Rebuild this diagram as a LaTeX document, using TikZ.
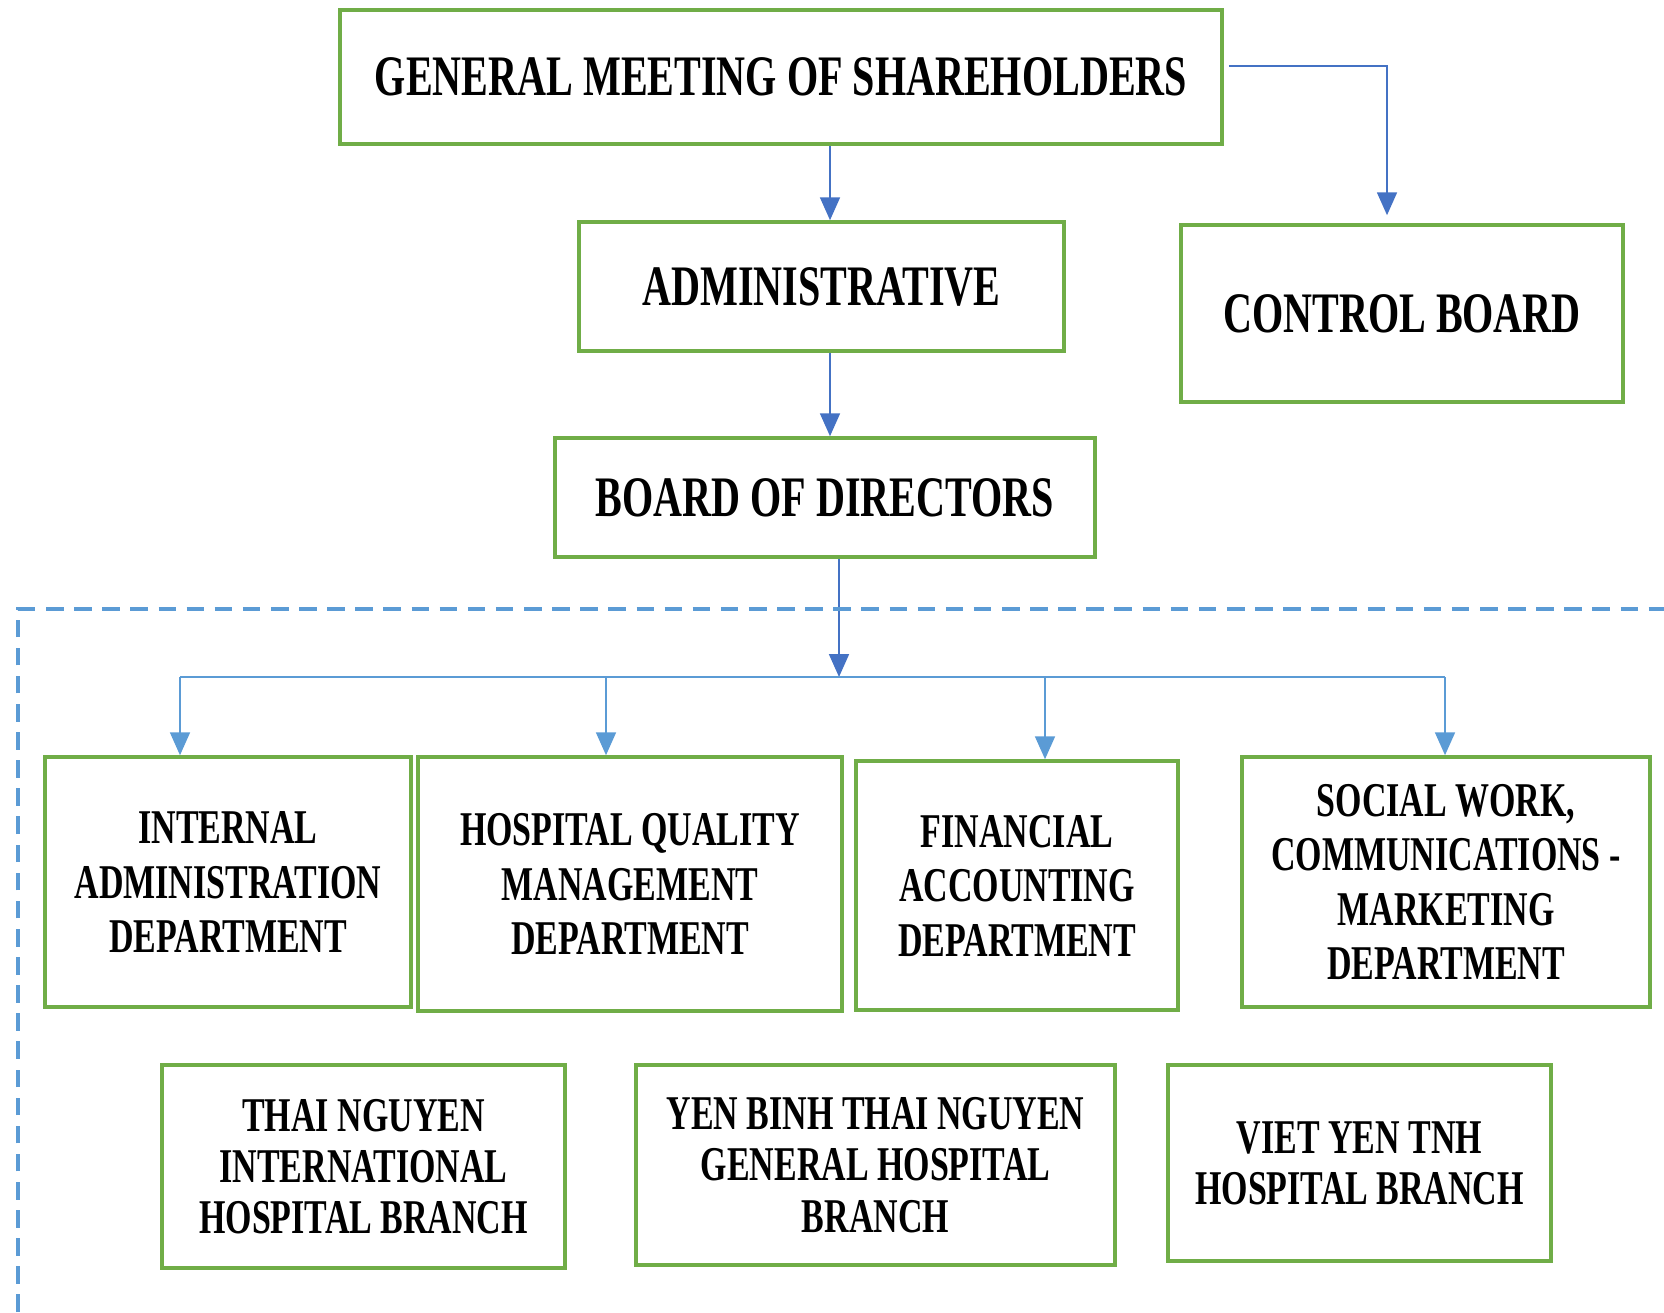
\documentclass[tikz,border=0pt]{standalone}
\usepackage{fontspec}
\setmainfont{Liberation Serif}[FakeStretch=0.7]
\usetikzlibrary{arrows.meta}

\definecolor{boxgreen}{HTML}{70AD47}
\definecolor{linkdark}{HTML}{4472C4}
\definecolor{linklight}{HTML}{5B9BD5}

\newcommand\bigfont{\fontsize{16.3}{19}\selectfont\bfseries}
\newcommand\deptfont{\fontsize{13.8}{15.5}\selectfont\bfseries}
\newcommand\branchfont{\fontsize{13.8}{14.6}\selectfont\bfseries}
\newcommand\tip{Triangle[width=5.6pt,length=6.5pt]}

\tikzset{
  orgbox/.style={draw=boxgreen,line width=1pt,inner sep=0pt,align=center,text=black},
  toplink/.style={draw=linkdark,line width=0.7pt,-{\tip}},
  sublink/.style={draw=linklight,line width=0.7pt},
  framedash/.style={draw=linklight,line width=0.9pt,dash pattern=on 5pt off 3pt}
}

\begin{document}
\begin{tikzpicture}
    \useasboundingbox (0,0) rectangle (16.64,-13.12);

    \node[orgbox,minimum width=8.82cm,minimum height=1.34cm,font=\bigfont] (gms) at (7.81,-0.77) {GENERAL MEETING OF SHAREHOLDERS};
    \node[orgbox,minimum width=4.85cm,minimum height=1.29cm,font=\bigfont] (admin) at (8.215,-2.865) {ADMINISTRATIVE};
    \node[orgbox,minimum width=4.42cm,minimum height=1.77cm,font=\bigfont] (control) at (14.02,-3.135) {CONTROL BOARD};
    \node[orgbox,minimum width=5.40cm,minimum height=1.19cm,font=\bigfont] (bod) at (8.25,-4.975) {BOARD OF DIRECTORS};

    \node[orgbox,minimum width=3.66cm,minimum height=2.50cm,font=\deptfont] (internal) at (2.28,-8.82) {INTERNAL\\ ADMINISTRATION\\ DEPARTMENT};
    \node[orgbox,minimum width=4.24cm,minimum height=2.54cm,font=\deptfont] (quality) at (6.30,-8.84) {HOSPITAL QUALITY\\ MANAGEMENT\\ DEPARTMENT};
    \node[orgbox,minimum width=3.22cm,minimum height=2.49cm,font=\deptfont] (finance) at (10.17,-8.855) {FINANCIAL\\ ACCOUNTING\\ DEPARTMENT};
    \node[orgbox,minimum width=4.08cm,minimum height=2.50cm,font=\deptfont] (social) at (14.46,-8.82) {SOCIAL WORK,\\ COMMUNICATIONS -\\ MARKETING\\ DEPARTMENT};

    \node[orgbox,minimum width=4.03cm,minimum height=2.03cm,font=\branchfont] (thainguyen) at (3.635,-11.665) {THAI NGUYEN\\ INTERNATIONAL\\ HOSPITAL BRANCH};
    \node[orgbox,minimum width=4.79cm,minimum height=2.00cm,font=\branchfont] (yenbinh) at (8.755,-11.65) {YEN BINH THAI NGUYEN\\ GENERAL HOSPITAL\\ BRANCH};
    \node[orgbox,minimum width=3.83cm,minimum height=1.96cm,font=\branchfont] (vietyen) at (13.595,-11.63) {VIET YEN TNH\\ HOSPITAL BRANCH};

    \coordinate (bus) at (8.39,-6.77);

    \draw[toplink] (8.30,0 |- gms.south) -- (8.30,0 |- admin.north);
    \draw[toplink,shorten >=0.08cm] ([xshift=0.05cm,yshift=0.11cm]gms.east) -| ([xshift=-0.15cm]control.north);
    \draw[toplink] (8.30,0 |- admin.south) -- (8.30,0 |- bod.north);
    \draw[toplink] (bod.south -| bus) -- (bus);

    \draw[sublink] (1.80,0 |- bus) -- (14.45,0 |- bus);
    \foreach \x/\n in {1.80/internal,6.06/quality,10.45/finance,14.45/social}
      \draw[sublink,-{\tip}] (\x,0 |- bus) -- (\x,0 |- \n.north);

    \draw[framedash] (0.18,-13.12) -- (0.18,-6.09) -- (16.64,-6.09);
\end{tikzpicture}
\end{document}
